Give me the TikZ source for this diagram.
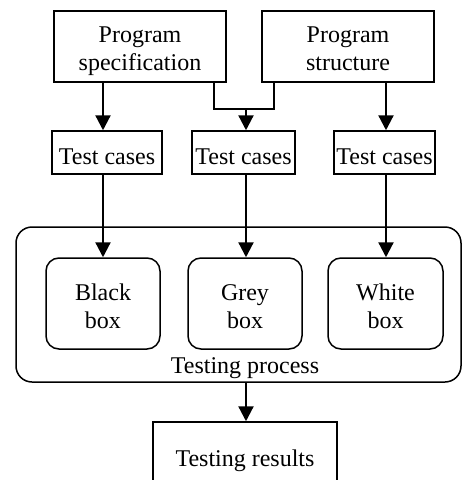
\documentclass[tikz,border=0pt]{standalone}
\usepackage{fontspec}
\setmainfont{Liberation Serif}
\usetikzlibrary{arrows.meta}
\begin{document}
\begin{tikzpicture}[x=1pt,y=-1pt,
  every node/.style={font=\fontsize{24}{28}\selectfont, align=center, inner sep=0pt},
  sqbox/.style={draw, line width=1.5pt},
  rbox/.style={draw, line width=1.5pt, rounded corners=13pt},
  arr/.style={line width=2.3pt, -{Triangle[length=15pt,width=15pt]}},
  con/.style={line width=1.5pt}]
\useasboundingbox (0,0) rectangle (462,480);
\node[sqbox, minimum width=172pt, minimum height=71pt] (spec) at (140,46.5) {};
\node[yshift=-4pt] (spect) at (spec.center) {Program\strut\\specification\strut};
\node[sqbox, minimum width=172pt, minimum height=71pt] (struct) at (348,46.5) {};
\node[yshift=-4pt] (structt) at (struct.center) {Program\strut\\structure\strut};
\node[sqbox, minimum width=110pt, minimum height=43pt] (tc1) at (107,152.5) {};
\node[yshift=-6.5pt] (tc1t) at (tc1.center) {Test cases\strut};
\node[sqbox, minimum width=103pt, minimum height=43pt] (tc2) at (243.5,152.5) {};
\node[yshift=-6.5pt] (tc2t) at (tc2.center) {Test cases\strut};
\node[sqbox, minimum width=101pt, minimum height=43pt] (tc3) at (384.5,152.5) {};
\node[yshift=-6.5pt] (tc3t) at (tc3.center) {Test cases\strut};
\node[rbox, rounded corners=16pt, minimum width=445pt, minimum height=155pt] (proc) at (238.5,304.5) {};
\node[rbox, minimum width=114pt, minimum height=91pt] (bb) at (103,303.5) {};
\node[yshift=-5pt] (bbt) at (bb.center) {Black\strut\\box\strut};
\node[rbox, minimum width=114pt, minimum height=91pt] (gb) at (245,303.5) {};
\node[yshift=-5pt] (gbt) at (gb.center) {Grey\strut\\box\strut};
\node[rbox, minimum width=115pt, minimum height=91pt] (wb) at (385.5,303.5) {};
\node[yshift=-5pt] (wbt) at (wb.center) {White\strut\\box\strut};
\node (plabel) at (245,367.4) {Testing process\strut};
\node[sqbox, minimum width=184pt, minimum height=76pt] (res) at (245,460) {};
\node[yshift=-1pt] (rest) at (res.center) {Testing results\strut};
\coordinate (a1) at (103,0);
\coordinate (a2) at (246,0);
\coordinate (a3) at (386,0);
\coordinate (l) at (214,0);
\coordinate (r) at (274,0);
\coordinate (j) at (246,109);
\draw[arr] (spec.south -| a1) -- (tc1.north -| a1);
\draw[arr] (struct.south -| a3) -- (tc3.north -| a3);
\draw[con] (spec.south -| l) |- (j) -| (struct.south -| r);
\draw[arr] (j) -- (tc2.north -| a2);
\draw[arr] (tc1.south -| a1) -- (bb.north -| a1);
\draw[arr] (tc2.south -| a2) -- (gb.north -| a2);
\draw[arr] (tc3.south -| a3) -- (wb.north -| a3);
\draw[arr] (proc.south -| a2) -- (res.north -| a2);
\end{tikzpicture}
\end{document}
